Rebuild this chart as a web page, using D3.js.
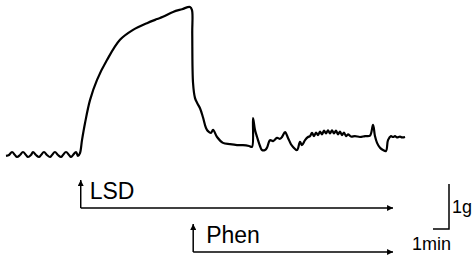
<!DOCTYPE html>
<html>
<head>
<meta charset="utf-8">
<script src="https://cdn.jsdelivr.net/npm/d3@7"></script>
<style>
  body { margin: 0; background: #fff; }
  text { font-family: "Liberation Sans", Arial, sans-serif; fill: #000; }
</style>
</head>
<body>
<div id="vis"></div>
<script>
// time in minutes, tension in grams
const timeMin = [
  0, 0.19, 0.375, 0.56, 0.69, 0.875, 1.06, 1.25, 1.375, 1.56, 1.69, 1.875, 2.06, 2.19, 2.375,
  2.56, 2.75, 2.875, 3.06, 3.25, 3.44, 3.56, 3.75, 3.94, 4.06, 4.19, 4.375, 4.5,
  4.625, 4.75, 4.94, 5.25, 5.69, 6.31, 7.125, 7.94, 8.81, 9.44, 9.81, 10.44, 11.0, 11.5, 11.625,
  11.64, 11.69, 11.81, 11.94, 12.125, 12.31, 12.5, 12.625, 12.81, 12.94, 13.19, 13.56, 14.0,
  14.44, 14.81, 15.19, 15.375, 15.44, 15.56, 15.69, 15.875, 16.0, 16.19, 16.31, 16.5, 16.69,
  16.94, 17.125, 17.25, 17.44, 17.625, 17.81, 17.94, 18.19, 18.375, 18.5, 18.69, 18.875,
  19.0, 19.125, 19.25, 19.375, 19.5, 19.625, 19.75, 19.875, 20.0, 20.125, 20.25, 20.375,
  20.5, 20.625, 20.75, 20.875, 21.0, 21.125, 21.25, 21.375, 21.56, 21.81, 22.125, 22.44,
  22.75, 22.94, 23.06, 23.19, 23.375, 23.56, 23.75, 23.875, 24.06, 24.19, 24.31, 24.44,
  24.625, 24.75, 24.94
];
const tensionG = [
  -0.02, 0, 0.067, 0, -0.044, 0, 0.067, 0, -0.044, 0, 0.067, 0, -0.044, 0, 0.067,
  0, -0.044, 0, 0.067, 0, -0.044, 0, 0.067, 0, -0.044, 0, 0.067, -0.02,
  0.044, 0.33, 0.71, 1.22, 1.67, 2.11, 2.56, 2.78, 2.93, 3.02, 3.07, 3.18, 3.24, 3.29, 3.22,
  2.71, 1.6, 1.27, 1.16, 1.04, 0.84, 0.6, 0.53, 0.49, 0.56, 0.4, 0.27, 0.24,
  0.22, 0.22, 0.2, 0.18, 0.82, 0.56, 0.4, 0.2, 0.11, 0.11, 0.16, 0.33, 0.31,
  0.38, 0.36, 0.4, 0.51, 0.38, 0.24, 0.18, 0.11, 0.29, 0.22, 0.33, 0.4,
  0.42, 0.49, 0.42, 0.5, 0.44, 0.52, 0.46, 0.54, 0.48, 0.55, 0.48, 0.55,
  0.48, 0.54, 0.46, 0.52, 0.44, 0.5, 0.42, 0.46, 0.41, 0.42, 0.4, 0.42,
  0.43, 0.67, 0.42, 0.27, 0.16, 0.11, 0.09, 0.33, 0.42, 0.4, 0.42, 0.39,
  0.41, 0.39, 0.4
];

// drug additions (minutes), both bars run to the same end time
const drugs = ["LSD", "Phen"];
const drugStart = [4.67, 11.7];
const drugEnd = 24.19;

// calibration bar
const scaleLabels = ["1g", "1min"];
const scaleMin = 1;
const scaleGram = 1;

const width = 475;
const height = 260;

function init() {
  const svg = d3.select("#vis").append("svg")
    .attr("width", width)
    .attr("height", height);

  const x = d3.scaleLinear().domain([0, 25]).range([6, 406]);
  const y = d3.scaleLinear().domain([0, 1]).range([155, 110]);

  const trace = timeMin.map((t, i) => [t, tensionG[i]]);

  const line = d3.line()
    .x(d => x(d[0]))
    .y(d => y(d[1]))
    .curve(d3.curveCatmullRom.alpha(0.5));

  svg.append("path")
    .datum(trace)
    .attr("d", line)
    .attr("fill", "none")
    .attr("stroke", "#000")
    .attr("stroke-width", 2.2)
    .attr("stroke-linejoin", "round");

  // arrowheads
  const defs = svg.append("defs");
  defs.append("marker")
    .attr("id", "head")
    .attr("viewBox", "0 0 10 10")
    .attr("refX", 10).attr("refY", 5)
    .attr("markerUnits", "userSpaceOnUse")
    .attr("markerWidth", 8).attr("markerHeight", 6)
    .attr("orient", "auto")
    .append("path")
    .attr("d", "M0,0L10,5L0,10z")
    .attr("fill", "#000");

  const barY = [208, 252];   // horizontal bar rows
  const labelDx = [9, 13];
  const tipUp = 28;          // height of the addition arrow

  const bars = svg.append("g")
    .selectAll("g")
    .data(drugs)
    .join("g");

  bars.append("path")
    .attr("d", (d, i) => `M${x(drugStart[i])},${barY[i]}V${barY[i] - tipUp}`)
    .attr("stroke", "#000")
    .attr("stroke-width", 1.5)
    .attr("fill", "none")
    .attr("marker-end", "url(#head)");

  bars.append("path")
    .attr("d", (d, i) => `M${x(drugStart[i])},${barY[i]}H${x(drugEnd)}`)
    .attr("stroke", "#000")
    .attr("stroke-width", 1.5)
    .attr("fill", "none")
    .attr("marker-end", "url(#head)");

  bars.append("text")
    .attr("x", (d, i) => x(drugStart[i]) + labelDx[i])
    .attr("y", (d, i) => barY[i] - 9.5)
    .style("font-size", "23px")
    .text(d => d);

  // calibration bar: corner at bottom-right
  const cx = 449, cy = 229;
  const wMin = x(scaleMin) - x(0);
  const hG = y(0) - y(scaleGram);
  svg.append("path")
    .attr("d", `M${cx},${cy - hG}V${cy}H${cx - wMin}`)
    .attr("stroke", "#000")
    .attr("stroke-width", 1.5)
    .attr("fill", "none");

  svg.append("text")
    .attr("x", cx + 3)
    .attr("y", cy - hG + 29)
    .style("font-size", "18px")
    .text(scaleLabels[0]);

  svg.append("text")
    .attr("x", cx - 37)
    .attr("y", 250)
    .style("font-size", "18px")
    .text(scaleLabels[1]);
}
window.addEventListener("load", init);
</script>
</body>
</html>
